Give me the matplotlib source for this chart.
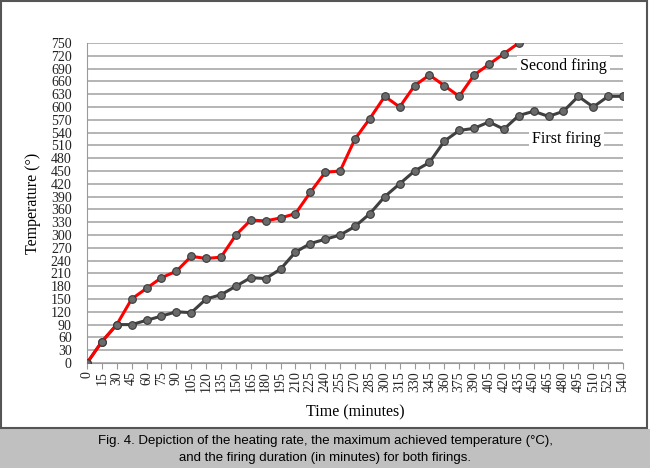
import numpy as np
import matplotlib
matplotlib.use('Agg')
import matplotlib.pyplot as plt
from matplotlib.patches import Rectangle

# time in minutes
time_first = list(range(0, 541, 15))
time_second = list(range(0, 436, 15))

first_firing = [0, 50, 90, 90, 100, 110, 120, 118, 150, 160, 180, 200, 198,
                220, 260, 280, 290, 300, 320, 350, 390, 420, 450, 470, 520,
                545, 550, 565, 548, 580, 590, 578, 590, 625, 600, 625, 625]
second_firing = [0, 50, 90, 150, 175, 200, 215, 250, 245, 248, 300, 335, 333,
                 340, 350, 400, 447, 450, 525, 573, 625, 600, 650, 675, 650,
                 625, 675, 700, 725, 750]

yticks = list(range(0, 751, 30))
xticks = list(range(0, 541, 15))

serif = ['Liberation Serif', 'DejaVu Serif']

fig = plt.figure(figsize=(6.5, 4.68), dpi=100)
fig.patch.set_facecolor('white')

# caption band and chart frame
fig.patches.append(Rectangle((0, 0), 1, 39/468, transform=fig.transFigure,
                             facecolor='#c0c0c0', edgecolor='none', zorder=-10))
fig.patches.append(Rectangle((1/650, 40/468), 646/650, 427/468,
                             transform=fig.transFigure, facecolor='white',
                             edgecolor='#555555', linewidth=1.5, zorder=-10))

ax = fig.add_axes([87/650, 105/468, 536/650, 320/468])
ax.set_facecolor('none')
ax.set_zorder(1)

ax.plot(time_first, first_firing, color='#404040', lw=2.2, zorder=3,
        marker='o', ms=5.5, mfc='#6a6a6a', mec='#3a3a3a', mew=0.8)
ax.plot(time_second, second_firing, color='#ff0000', lw=2.2, zorder=3,
        marker='o', ms=5.5, mfc='#6a6a6a', mec='#3a3a3a', mew=0.8)

ax.set_xlim(0, 540)
ax.set_ylim(0, 750)
ax.set_xticks(xticks)
ax.set_xticklabels([str(t) for t in xticks], rotation=90, fontsize=10,
                   family=serif)
ax.set_yticks(yticks)
ax.set_yticklabels([str(t) for t in yticks], fontsize=10, family=serif)
ax.yaxis.grid(True, color='#b4b4b4', lw=1.4)
ax.set_axisbelow(True)
for s in ['top', 'right']:
    ax.spines[s].set_visible(False)
ax.spines['left'].set_color('#999999')
ax.spines['bottom'].set_color('#999999')
ax.tick_params(axis='y', length=0, pad=11, colors='#222222')
ax.tick_params(axis='x', length=4, color='#999999', pad=2, colors='#222222')

ax.set_xlabel('Time (minutes)', fontsize=11.5, family=serif, labelpad=9)
ax.set_ylabel('Temperature (°)', fontsize=11.5, family=serif, labelpad=7)

ax.text(480, 695, 'Second firing', fontsize=11.5, family=serif, ha='center',
        va='center', zorder=4,
        bbox=dict(facecolor='white', edgecolor='none', pad=2))
ax.text(483, 525, 'First firing', fontsize=11.5, family=serif, ha='center',
        va='center', zorder=4,
        bbox=dict(facecolor='white', edgecolor='none', pad=2))

fig.text(0.5, 1 - 441/468,
         'Fig. 4. Depiction of the heating rate, the maximum achieved temperature (°C),',
         ha='center', va='center', fontsize=9.5, family='Liberation Sans')
fig.text(0.5, 1 - 458/468,
         'and the firing duration (in minutes) for both firings.',
         ha='center', va='center', fontsize=9.5, family='Liberation Sans')

fig.savefig('out.png', dpi=100)
